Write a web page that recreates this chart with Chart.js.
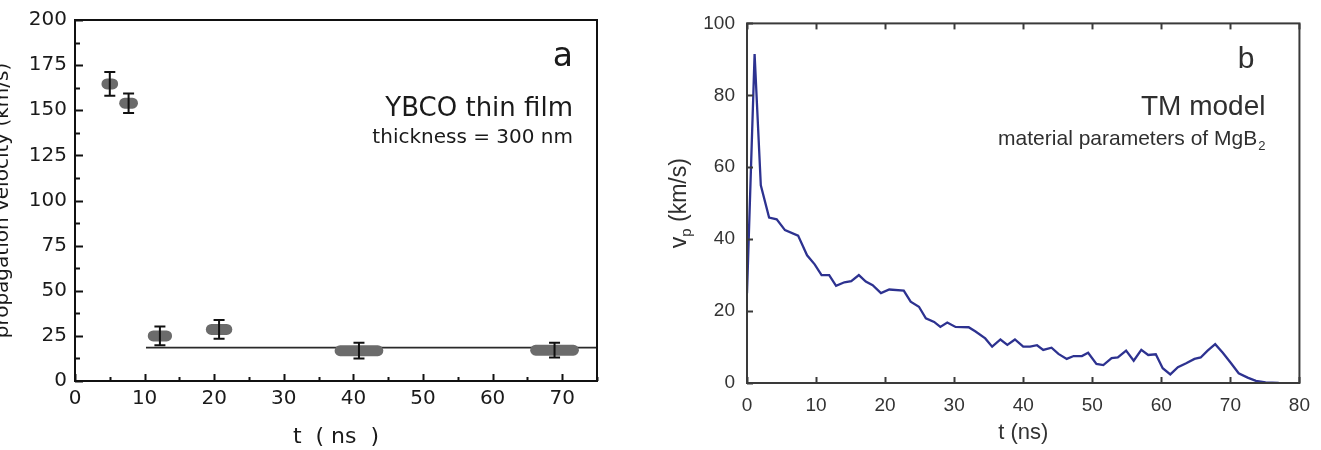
<!DOCTYPE html>
<html><head><meta charset="utf-8">
<script src="https://cdn.jsdelivr.net/npm/chart.js@4.4.1/dist/chart.umd.min.js"></script>
<style>
html,body{margin:0;padding:0;background:#fff;overflow:hidden;}
body{width:1321px;height:450px;position:relative;}
#ca{position:absolute;left:-13px;top:0;}
#cb{position:absolute;left:660px;top:0;}
</style></head><body>
<canvas id="ca" width="653" height="450"></canvas>
<canvas id="cb" width="661" height="450"></canvas>
<script>
// ---------- Panel a data ----------
const tA = [5.0, 7.7, 12.2, 20.7, 40.8, 68.9];
const vA = [164.6, 153.9, 25.0, 28.6, 16.8, 17.1];
const vErrA = [6.6, 5.4, 5.2, 5.2, 4.4, 4.1];
const tHalfA = [1.2, 1.35, 1.75, 1.9, 3.5, 3.5];
const fitT = [10.2, 75];
const fitV = [18.5, 18.5];
const xTicksA = [0, 10, 20, 30, 40, 50, 60, 70];
const yTicksA = [0, 25, 50, 75, 100, 125, 150, 175, 200];

// ---------- Panel b data ----------
const tB = [0, 1.1, 2.0, 3.2, 4.3, 5.5, 7.4, 8.7, 9.8, 10.8, 11.9, 12.9, 14.1, 15.1, 16.2, 17.2, 18.2, 19.4, 20.6, 22.7, 23.7, 24.9, 25.9, 27.1, 28.0, 29.0, 30.2, 32.1, 33.1, 34.5, 35.5, 36.7, 37.7, 38.8, 40.0, 41.0, 42.0, 42.9, 44.1, 45.1, 46.3, 47.3, 48.5, 49.4, 50.6, 51.6, 52.8, 53.7, 54.9, 56.0, 57.1, 58.1, 59.2, 60.2, 61.3, 62.4, 63.6, 64.8, 65.7, 66.7, 67.8, 68.9, 70.1, 71.2, 72.5, 73.7, 75.1, 77.0];
const vB = [25, 91.5, 55, 46, 45.5, 42.5, 41, 35.5, 33, 30, 30, 27, 28, 28.3, 30, 28.2, 27.2, 25, 26, 25.7, 22.6, 21.2, 18, 17, 15.6, 16.8, 15.6, 15.5, 14.3, 12.4, 10.1, 12.1, 10.6, 12.1, 10.1, 10.1, 10.5, 9.2, 9.8, 8.1, 6.7, 7.5, 7.5, 8.4, 5.3, 5.0, 6.9, 7.1, 9.0, 6.2, 9.2, 7.8, 8.0, 4.1, 2.4, 4.4, 5.5, 6.7, 7.1, 9.0, 10.8, 8.4, 5.5, 2.7, 1.5, 0.6, 0.2, 0];
const xTicksB = [0, 10, 20, 30, 40, 50, 60, 70, 80];
const yTicksB = [0, 20, 40, 60, 80, 100];

// ---------- helpers ----------
function isIn(arr, v) { return arr.some(a => Math.abs(a - v) < 1e-6); }

function frameTicks(cfg) {
  return {
    id: 'frameTicks',
    afterDatasetsDraw(chart) {
      const {ctx, chartArea: ca} = chart;
      ctx.save();
      ctx.strokeStyle = cfg.color;
      ctx.lineWidth = cfg.tickWidth;
      cfg.sides.forEach(s => {
        const sc = chart.scales[s.scale];
        sc.ticks.forEach(t => {
          const major = isIn(s.labels, t.value);
          const len = major ? s.majorLen : s.minorLen;
          if (!len) return;
          const p = Math.round(sc.getPixelForValue(t.value)) + 0.5;
          ctx.beginPath();
          if (s.side === 'bottom') { ctx.moveTo(p, ca.bottom); ctx.lineTo(p, ca.bottom - len); }
          if (s.side === 'top') { ctx.moveTo(p, ca.top); ctx.lineTo(p, ca.top + len); }
          if (s.side === 'left') { ctx.moveTo(ca.left, p); ctx.lineTo(ca.left + len, p); }
          ctx.stroke();
        });
      });
      ctx.lineWidth = cfg.frameWidth;
      ctx.strokeRect(ca.left, ca.top, ca.right - ca.left, ca.bottom - ca.top);
      ctx.restore();
    }
  };
}

// ---------- Panel a ----------
const markersA = {
  id: 'markersA',
  afterDatasetsDraw(chart) {
    const {ctx, scales: {x, y}} = chart;
    ctx.save();
    tA.forEach((t, i) => {
      const cx = x.getPixelForValue(t), cy = y.getPixelForValue(vA[i]);
      const x0 = x.getPixelForValue(t - tHalfA[i]), x1 = x.getPixelForValue(t + tHalfA[i]);
      const h = 11;
      ctx.fillStyle = '#6b6b6b';
      ctx.beginPath();
      ctx.roundRect(x0, cy - h / 2, x1 - x0, h, h / 2);
      ctx.fill();
      const yt = y.getPixelForValue(vA[i] + vErrA[i]);
      const yb = y.getPixelForValue(vA[i] - vErrA[i]);
      ctx.strokeStyle = '#111';
      ctx.lineWidth = 2;
      ctx.beginPath();
      ctx.moveTo(cx, yt); ctx.lineTo(cx, yb);
      ctx.moveTo(cx - 5.5, yt); ctx.lineTo(cx + 5.5, yt);
      ctx.moveTo(cx - 5.5, yb); ctx.lineTo(cx + 5.5, yb);
      ctx.stroke();
    });
    ctx.restore();
  }
};
const textA = {
  id: 'textA',
  afterDraw(chart) {
    const {ctx, chartArea: ca} = chart;
    ctx.save();
    ctx.fillStyle = '#1a1a1a';
    ctx.textAlign = 'right';
    ctx.textBaseline = 'alphabetic';
    ctx.font = '33px "DejaVu Sans"';
    ctx.fillText('a', ca.right - 24, ca.top + 46);
    ctx.font = '26px "DejaVu Sans"';
    ctx.fillText('YBCO thin film', ca.right - 24, ca.top + 96);
    ctx.font = '20px "DejaVu Sans"';
    ctx.fillText('thickness = 300 nm', ca.right - 24, ca.top + 123);
    ctx.restore();
  }
};

new Chart(document.getElementById('ca'), {
  type: 'scatter',
  data: {
    datasets: [
      { data: tA.map((t, i) => ({x: t, y: vA[i]})), pointRadius: 0, showLine: false },
      { data: fitT.map((t, i) => ({x: t, y: fitV[i]})), showLine: true, pointRadius: 0,
        borderColor: '#2a2a2a', borderWidth: 1.6 }
    ]
  },
  options: {
    responsive: false, animation: false,
    layout: { padding: { top: 17, right: 43, bottom: 0, left: 0 } },
    plugins: { legend: { display: false }, tooltip: { enabled: false } },
    scales: {
      x: {
        type: 'linear', min: 0, max: 75,
        grid: { display: false, drawTicks: false }, border: { display: false },
        ticks: { stepSize: 5, autoSkip: false, maxRotation: 0, includeBounds: false, padding: 6,
          color: '#1a1a1a', font: { family: 'DejaVu Sans', size: 20 },
          callback: v => isIn(xTicksA, v) ? String(v) : '' },
        title: { display: true, text: 't  ( ns  )', color: '#1a1a1a',
          font: { family: 'DejaVu Sans', size: 22 }, padding: { top: 4, bottom: 0 } },
        afterFit: s => { s.height = 69; }
      },
      y: {
        type: 'linear', min: 0, max: 200,
        grid: { display: false, drawTicks: false }, border: { display: false },
        ticks: { stepSize: 12.5, autoSkip: false, maxTicksLimit: 100, padding: 8,
          color: '#1a1a1a', font: { family: 'DejaVu Sans', size: 20 },
          callback: v => isIn(yTicksA, v) ? String(v) : '' },
        title: { display: true, text: 'propagation velocity (km/s)', color: '#1a1a1a',
          font: { family: 'DejaVu Sans', size: 20 }, padding: { top: 4, bottom: 4 } },
        afterFit: s => { s.width = 88; }
      }
    }
  },
  plugins: [frameTicks({
    color: '#111', tickWidth: 2, frameWidth: 2,
    sides: [
      { scale: 'x', side: 'bottom', labels: xTicksA, majorLen: 7, minorLen: 4 },
      { scale: 'y', side: 'left', labels: yTicksA, majorLen: 8, minorLen: 5 }
    ]
  }), markersA, textA]
});

// ---------- Panel b ----------
const textB = {
  id: 'textB',
  afterDraw(chart) {
    const {ctx, chartArea: ca} = chart;
    ctx.save();
    ctx.fillStyle = '#2f2f2f';
    ctx.textBaseline = 'alphabetic';
    ctx.textAlign = 'right';
    ctx.font = '30px "Liberation Sans"';
    ctx.fillText('b', ca.right - 45, ca.top + 45);
    ctx.font = '28px "Liberation Sans"';
    ctx.fillText('TM model', ca.right - 34, ca.top + 92);
    ctx.font = '13px "Liberation Sans"';
    const w2 = ctx.measureText('2').width;
    ctx.fillText('2', ca.right - 34, ca.top + 127);
    ctx.font = '21px "Liberation Sans"';
    ctx.fillText('material parameters of MgB', ca.right - 35 - w2, ca.top + 122);
    // y-axis title with subscript
    const cy = (ca.top + ca.bottom) / 2;
    ctx.translate(26, cy);
    ctx.rotate(-Math.PI / 2);
    ctx.textAlign = 'left';
    ctx.font = '23px "Liberation Sans"';
    const wv = ctx.measureText('v').width;
    const wr = ctx.measureText(' (km/s)').width;
    ctx.font = '15px "Liberation Sans"';
    const wp = ctx.measureText('p').width;
    const x0 = -(wv + wp + wr) / 2;
    ctx.font = '23px "Liberation Sans"';
    ctx.fillText('v', x0, 0);
    ctx.font = '15px "Liberation Sans"';
    ctx.fillText('p', x0 + wv, 5);
    ctx.font = '23px "Liberation Sans"';
    ctx.fillText(' (km/s)', x0 + wv + wp, 0);
    ctx.restore();
  }
};

new Chart(document.getElementById('cb'), {
  type: 'line',
  data: {
    datasets: [
      { data: tB.map((t, i) => ({x: t, y: vB[i]})), borderColor: '#2d3290', borderWidth: 2.3,
        pointRadius: 0, tension: 0, fill: false }
    ]
  },
  options: {
    responsive: false, animation: false,
    layout: { padding: { top: 23, right: 19, bottom: 0, left: 0 } },
    plugins: { legend: { display: false }, tooltip: { enabled: false } },
    scales: {
      x: {
        type: 'linear', min: 0, max: 80,
        grid: { display: false, drawTicks: false }, border: { display: false },
        ticks: { stepSize: 10, autoSkip: false, maxRotation: 0, padding: 11,
          color: '#333', font: { family: 'Liberation Sans', size: 19 },
          callback: v => isIn(xTicksB, v) ? String(v) : '' },
        title: { display: true, text: 't (ns)', color: '#333',
          font: { family: 'Liberation Sans', size: 22 }, padding: { top: 4, bottom: 4 } },
        afterFit: s => { s.height = 67; }
      },
      y: {
        type: 'linear', min: 0, max: 100,
        grid: { display: false, drawTicks: false }, border: { display: false },
        ticks: { stepSize: 20, autoSkip: false, padding: 12,
          color: '#333', font: { family: 'Liberation Sans', size: 19 },
          callback: v => isIn(yTicksB, v) ? String(v) : '' },
        afterFit: s => { s.width = 87; }
      }
    }
  },
  plugins: [frameTicks({
    color: '#3a3a3a', tickWidth: 2, frameWidth: 2,
    sides: [
      { scale: 'x', side: 'bottom', labels: xTicksB, majorLen: 6, minorLen: 0 },
      { scale: 'x', side: 'top', labels: xTicksB, majorLen: 6, minorLen: 0 },
      { scale: 'y', side: 'left', labels: yTicksB, majorLen: 6, minorLen: 0 }
    ]
  }), textB]
});
</script>
</body></html>
